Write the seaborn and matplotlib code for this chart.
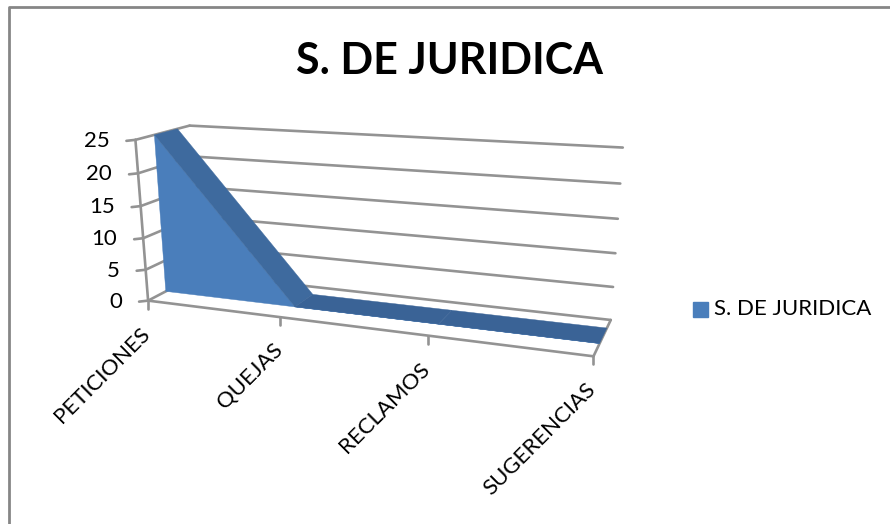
import numpy as np
import pandas as pd
import matplotlib
matplotlib.use("Agg")
import matplotlib.pyplot as plt
from matplotlib.patches import Rectangle
import seaborn as sns

# Chart data
title = "S. DE JURIDICA"
categories = ["PETICIONES", "QUEJAS", "RECLAMOS", "SUGERENCIAS"]
values = [25, 0, 0, 0]
y_ticks = [0, 5, 10, 15, 20, 25]

GRID = "#939393"
FRONT = "#4a7ebb"
SLOPE = "#3e6a9e"
FLAT = "#3a6396"

# Depth of the area inside the box (0 front, 1 back)
DEPTH_FRONT = 0.33
DEPTH_BACK = 0.76


def fit_camera():
    """Fit the 3x4 projection from box corners (x, depth, value) to pixels"""
    box = [(0, 0, 0), (0, 1, 0), (1, 1, 0), (1, 0, 0),
           (0, 0, 25), (0, 1, 25), (1, 1, 25)]
    pix = [(147, 300), (200, 275), (611, 318), (593, 358),
           (137, 139), (188, 126), (623, 148)]
    rows = []
    for (a, b, c), (u, v) in zip(box, pix):
        p = [a, b, c, 1]
        rows.append(p + [0, 0, 0, 0] + [-u * k for k in p])
        rows.append([0, 0, 0, 0] + p + [-v * k for k in p])
    return np.linalg.lstsq(np.array(rows)[:, :-1], -np.array(rows)[:, -1], rcond=None)[0]


cam = np.append(fit_camera(), 1.0).reshape(3, 4)


def project(x, depth, value):
    """Position of a chart point on the page"""
    p = cam @ np.array([x, depth, value, 1.0])
    return p[0] / p[2], p[1] / p[2]


def draw_line(ax, start, end, lw=1.9):
    a, b = project(*start), project(*end)
    df = pd.DataFrame({"x": [a[0], b[0]], "y": [a[1], b[1]]})
    sns.lineplot(data=df, x="x", y="y", sort=False, estimator=None, color=GRID,
                 linewidth=lw, ax=ax, legend=False)


def draw_face(ax, points, color):
    xy = [project(*p) for p in points]
    ax.fill([q[0] for q in xy], [q[1] for q in xy], color=color, lw=0.3, zorder=3)


sns.set_style("white")
plt.rcParams["font.family"] = ["Lato", "DejaVu Sans"]

fig = plt.figure(figsize=(8.9, 5.24), dpi=100)
ax = fig.add_axes([0, 0, 1, 1])
ax.set_xlim(0, 890)
ax.set_ylim(524, 0)
ax.axis("off")

# Chart frame
ax.plot([9, 9, 890], [524, 7, 7], color="#868686", lw=2)

# Walls and floor
xpos = [i / (len(categories) - 1) for i in range(len(categories))]
for v in y_ticks:
    draw_line(ax, (0, 0, v), (0, 1, v))
    draw_line(ax, (0, 1, v), (1, 1, v))
    px, py = project(0, 0, v)
    ax.plot([px - 9, px], [py + 1, py], color=GRID, lw=1.9)
    ax.text(px - 26, py + 1, str(v), ha="right", va="center", fontsize=16, color="black")
draw_line(ax, (0, 0, 0), (0, 0, y_ticks[-1]))
draw_line(ax, (0, 0, 0), (1, 0, 0))
draw_line(ax, (1, 0, 0), (1, 1, 0))

for x, name in zip(xpos, categories):
    px, py = project(x, 0, 0)
    ax.plot([px, px], [py, py + 8], color=GRID, lw=1.9)
    ax.text(px - 1, py + 30, name, rotation=45, rotation_mode="anchor", ha="right", va="center",
            fontsize=16, color="black")

# Area: front face first, then the sloped and flat top surfaces
front = [(x, DEPTH_FRONT, v) for x, v in zip(xpos, values)]
front += [(xpos[-1], DEPTH_FRONT, 0), (xpos[0], DEPTH_FRONT, 0)]
draw_face(ax, front, FRONT)
for i in range(len(values) - 1):
    surface = [(xpos[i], DEPTH_FRONT, values[i]), (xpos[i + 1], DEPTH_FRONT, values[i + 1]),
               (xpos[i + 1], DEPTH_BACK, values[i + 1]), (xpos[i], DEPTH_BACK, values[i])]
    draw_face(ax, surface, SLOPE if values[i] != values[i + 1] else FLAT)

ax.text(450, 61, title, ha="center", va="center", fontsize=31, fontweight="bold", color="black")

# Legend
ax.add_patch(Rectangle((693, 302), 15, 15, color=FRONT))
ax.text(714, 309, title, ha="left", va="center", fontsize=16, color="black")

fig.savefig("out.png", dpi=100)
